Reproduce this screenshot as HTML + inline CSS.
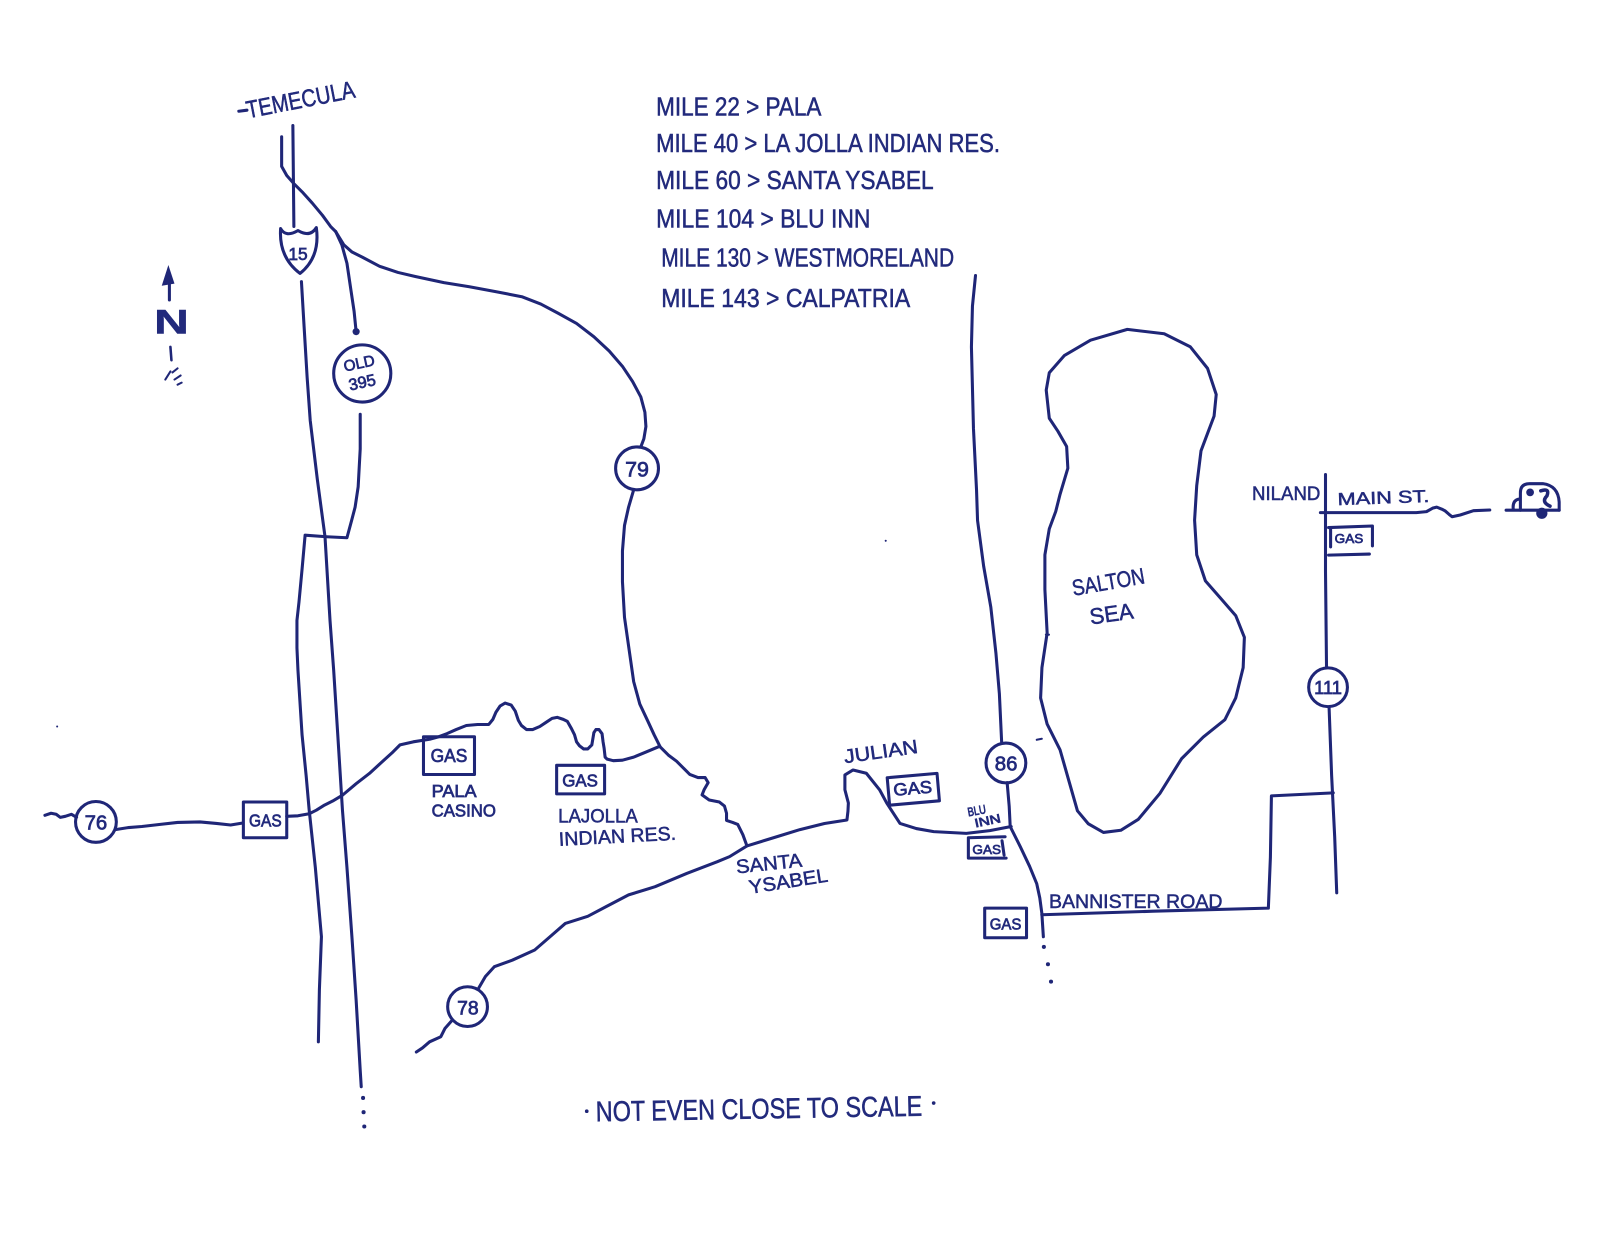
<!DOCTYPE html>
<html>
<head>
<meta charset="utf-8">
<style>
  html,body{margin:0;padding:0;background:#fff;}
  svg{display:block;}
  .t{font-family:"Liberation Sans",sans-serif;fill:#222a7c;stroke:#222a7c;stroke-width:0.5;}
  .s{font-family:"Liberation Sans",sans-serif;fill:#222a7c;stroke:#222a7c;stroke-width:0.7;}
</style>
</head>
<body>
<svg xmlns="http://www.w3.org/2000/svg" width="1600" height="1236" viewBox="0 0 1568 1211.3">
<rect x="0" y="0" width="1568" height="1211.3" fill="#ffffff"/>

<g fill="none" stroke="#1f2677" stroke-width="3" stroke-linecap="round" stroke-linejoin="round">
  <!-- Temecula dash -->
  <path d="M234,109 L242,108"/>
  <!-- I-15 top -->
  <path d="M287,123 L288,222"/>
  <!-- left short line curving -->
  <polyline points="276,134 276,163 281,172 288,180 297,189 306,199 316,211 324,222 329,227"/>
  <!-- Old 395 upper branch -->
  <polyline points="329,227 335,240 340,258 344,285 347,305 349,325"/>
  <!-- 79 upper -->
  <polyline points="329,227 337,240 345,247 355,252 372,261 390,267 407,271 435,277 460,281 487,286 512,291 530,298 547,307 565,317 582,330 597,344 610,359 620,374 628,389 632,404 633,418 631,430 628,438"/>
  <circle cx="624.3" cy="459" r="21"/>
  <!-- 79 lower -->
  <polyline points="621,480 616,497 612,515 610,540 610,570 612,605 617,640 621,668 627,690 635,707 641,720 647,732"/>
  <!-- 79 wiggle to Santa Ysabel -->
  <polyline points="647,732 655,740 663,746 670,753 676,759 684,762 691,762 694,767 690,774 688,779 695,784 705,786 710,790 712,797 712,804 718,806 723,808 728,818 732,829"/>
  <!-- La Jolla / Pala road -->
  <polyline points="645,732 633,737 621,742 610,745 601,745.5 595,744 593,742 592,733 591,727 590,719 587,715 584,715 582,718 581,724 580,730 576,734 572,734 568,731 565,727 563,720 560,714 556,707 552,705 546,703 541,704 535,708 529,712 522,715 516,715 511,711 508,706 505,697 501,691 495,689 490,692 486,698 483,705 479,710 468,710 457,711 447,715 438,719 430,722 421,724.5 405,727 392,730 384,738 374,747 362,758 349,768 336,779 326,785 318,789 310,794 303,797.5 292,799.5 281,800"/>
  <!-- 76 -->
  <polyline points="44,799 50,797 55,798 59,801 64,800 70,798 75,801"/>
  <circle cx="94" cy="805.5" r="20"/>
  <polyline points="113,813 126,811 139,810 156,808 174,806 196,805.5 212,807 226,808.5 238,806.6"/>
  <rect x="238.5" y="786" width="42.5" height="35"/>
  <!-- Pala gas -->
  <rect x="415" y="722" width="50" height="37"/>
  <!-- La Jolla gas -->
  <rect x="545.5" y="750" width="47" height="28"/>
  <!-- Old 395 circle -->
  <ellipse cx="355" cy="366" rx="28" ry="28"/>
  <!-- Old 395 lower -->
  <polyline points="353,406 353,440 351,477 348,497 344.6,510 340,527 320,526 299,524.5 296,558 293,590 291,608 291,635 292,657 296,720 300,760 303,794 309,850 315,918 313,970 312,1021"/>
  <!-- I-15 lower -->
  <polyline points="295.4,276 298,320 301,370 304,412 311,470 318.5,526 323.4,608 327,657 331,720 335.6,794 340,850 345,920 349,980 353,1049 354,1065"/>
  <!-- I-15 shield -->
  <path d="M275,224 Q280,233 292,226 Q304,233 310,223 Q314,252 294,268 Q273,252 275,224 Z"/>
  <!-- 78 -->
  <circle cx="458.2" cy="986.5" r="19.5"/>
  <polyline points="443,1000 436,1008 432,1016 421,1021 414,1027 408,1031"/>
  <polyline points="469,968.5 475.7,957 484.4,947.4 502,941 524,931 539,918 554,905 576,898 594,888.5 616,877 642,869 673,856 703,844.5 715,839.5 732,829 758,821 784,813 808,807 830,803.6 831,795 831.4,787 828,774 828,759.5 836,754.6 849,757.8 862,774 869,787 882,807 898,812 915,815 947,816.7 970,814 991,810"/>
  <!-- Julian gas -->
  <rect x="870.5" y="760" width="49" height="27" transform="rotate(-5 895 773)"/>
  <!-- 86 -->
  <polyline points="956,270 953,300 952,340 954,420 957,480 958,510 964,555 971,595 976,640 979.4,680 981.6,727"/>
  <circle cx="985.8" cy="747.7" r="19.5"/>
  <polyline points="987,767 989,790 990,810 1000,830 1009,849 1016,866 1019,880 1021,895 1022.5,918"/>
  <!-- Blu Inn gas -->
  <path d="M949,821 L985,820 M949,821 L949,841 L986,841 M982,824 L984,838"/>
  <!-- Bannister gas -->
  <rect x="965" y="890" width="41" height="29"/>
  <!-- Bannister road -->
  <polyline points="1021,896.5 1130,893 1243,890 1245,840 1246,780 1306.6,777"/>
  <!-- 111 -->
  <polyline points="1299,465 1299,560 1300,654"/>
  <circle cx="1301.5" cy="673.5" r="19"/>
  <polyline points="1302.5,693 1305,760 1308,820 1310,875"/>
  <!-- Main St -->
  <polyline points="1294,502.4 1340,502.4 1388,502.4 1398,501.4 1404,498 1408,497 1413,499 1416,500.5 1420,504 1423,506.4 1431,504.7 1444,500.5 1460,499.8"/>
  <!-- Niland gas -->
  <path d="M1302,517 L1345,515.5 L1345,535 M1304,518 L1304,536 M1302,544 L1342,543"/>
  <!-- Trailer -->
  <path d="M1476,500 L1528,500"/>
  <path d="M1490,500 L1490,483 Q1490,474 1499,474 L1512,474 Q1527,476 1528,492 L1528,500"/>
  <path d="M1483,499 Q1482,490 1489,489"/>
  <path d="M1510,481 Q1519,478 1516,486 Q1510,492 1519,496" stroke-width="3.5"/>
  <!-- Salton Sea -->
  <path d="M1104.8,322.8 L1140.9,327.1 L1166.4,339.8 L1183.4,361 L1191.9,386.6 L1189.8,407.8 L1183.4,424.8 L1177,441.8 L1172.8,475.8 L1170.7,509.8 L1172.8,543.8 L1181.3,569.3 L1196.2,586.3 L1211,603.3 L1219.5,624.6 L1218.3,654.3 L1211,684 L1200.4,705.3 L1179.2,722.3 L1157.9,743.6 L1136.7,777.6 L1115.4,803.1 L1098.4,813.7 L1081.4,815.8 L1066.5,807.3 L1055.9,794.6 L1047.4,764.8 L1038.9,735 L1026.2,709.6 L1019.8,684 L1021.1,654.3 L1026.2,620.3 L1024,577.8 L1024,543.8 L1028.3,518.3 L1034.6,501.3 L1038.9,484.3 L1046.5,458.8 L1045.3,437.6 L1036.8,422.7 L1028.3,409.9 L1025.3,382.3 L1028.3,365.3 L1043.2,348.3 L1068.7,333.4 Z"/>
  <!-- small marks -->
  <path d="M1016,725 L1021,724" stroke-width="2"/>
  <path d="M1025,622 L1028,622" stroke-width="2"/>
  <!-- compass -->
  <path d="M166,294 L166,272"/>
  <path d="M167,340 L168,353" stroke-width="2.5"/>
  <path d="M162,372 L167,364 M169,365 L174,361 M171,372 L177,368 M174,377 L178,375" stroke-width="2"/>
</g>

<g fill="#1f2677" stroke="none">
  <circle cx="349" cy="325" r="3.5"/>
  <circle cx="355.8" cy="1076" r="2"/>
  <circle cx="356.3" cy="1090" r="2"/>
  <circle cx="357" cy="1104" r="2"/>
  <circle cx="1023" cy="928" r="2"/>
  <circle cx="1027" cy="945" r="2"/>
  <circle cx="1030" cy="962" r="2"/>
  <circle cx="1499.5" cy="482.5" r="3.8"/>
  <circle cx="1511" cy="503" r="5.5"/>
  <circle cx="575" cy="1089" r="1.8"/>
  <circle cx="915" cy="1081" r="1.8"/>
  <circle cx="56" cy="712" r="1"/>
  <circle cx="868" cy="530" r="1"/>
  <path d="M165,259.7 L158.5,280 L171,278 Z"/>
</g>

<!-- Texts -->
<text class="t" x="243" y="116" font-size="24" textLength="108" lengthAdjust="spacingAndGlyphs" transform="rotate(-11 243 116)">TEMECULA</text>

<text class="t" x="643" y="113" font-size="25" textLength="162" lengthAdjust="spacingAndGlyphs">MILE 22 &gt; PALA</text>
<text class="t" x="643" y="149" font-size="25" textLength="337" lengthAdjust="spacingAndGlyphs">MILE 40 &gt; LA JOLLA INDIAN RES.</text>
<text class="t" x="643" y="185" font-size="25" textLength="272" lengthAdjust="spacingAndGlyphs">MILE 60 &gt; SANTA YSABEL</text>
<text class="t" x="643" y="223" font-size="25" textLength="210" lengthAdjust="spacingAndGlyphs">MILE 104 &gt; BLU INN</text>
<text class="t" x="648" y="261" font-size="25" textLength="287" lengthAdjust="spacingAndGlyphs">MILE 130 &gt; WESTMORELAND</text>
<text class="t" x="648" y="301" font-size="25" textLength="244" lengthAdjust="spacingAndGlyphs">MILE 143 &gt; CALPATRIA</text>

<text class="t" x="151" y="327" font-size="34" font-weight="bold" textLength="34" lengthAdjust="spacingAndGlyphs">N</text>

<text class="s" x="292" y="255" font-size="17" text-anchor="middle">15</text>
<text class="s" x="353" y="361" font-size="15" text-anchor="middle" transform="rotate(-12 353 361)">OLD</text>
<text class="s" x="356" y="380" font-size="16" text-anchor="middle" transform="rotate(-12 356 380)">395</text>
<text class="s" x="624.3" y="467" font-size="21" text-anchor="middle">79</text>
<text class="s" x="94" y="813" font-size="20" text-anchor="middle">76</text>
<text class="s" x="458.5" y="994" font-size="19" text-anchor="middle">78</text>
<text class="s" x="986" y="755" font-size="20" text-anchor="middle">86</text>
<text class="s" x="1301.5" y="680" font-size="18" text-anchor="middle">111</text>

<text class="s" x="244" y="810" font-size="17" textLength="32" lengthAdjust="spacingAndGlyphs">GAS</text>
<text class="s" x="422" y="747" font-size="18" textLength="36" lengthAdjust="spacingAndGlyphs">GAS</text>
<text class="s" x="551" y="771" font-size="17" textLength="35" lengthAdjust="spacingAndGlyphs">GAS</text>
<text class="s" x="876" y="780" font-size="17" textLength="38" lengthAdjust="spacingAndGlyphs" transform="rotate(-5 876 780)">GAS</text>
<text class="s" x="953" y="837" font-size="13" textLength="28" lengthAdjust="spacingAndGlyphs">GAS</text>
<text class="s" x="970" y="911" font-size="15" textLength="31" lengthAdjust="spacingAndGlyphs">GAS</text>
<text class="s" x="1308" y="532" font-size="13" textLength="28" lengthAdjust="spacingAndGlyphs">GAS</text>

<text class="s" x="423" y="781" font-size="17" textLength="44" lengthAdjust="spacingAndGlyphs">PALA</text>
<text class="s" x="423" y="800" font-size="17" textLength="63" lengthAdjust="spacingAndGlyphs">CASINO</text>
<text class="t" x="547" y="806" font-size="19" textLength="78" lengthAdjust="spacingAndGlyphs">LAJOLLA</text>
<text class="t" x="548" y="829" font-size="19" textLength="115" lengthAdjust="spacingAndGlyphs" transform="rotate(-3 548 829)">INDIAN RES.</text>
<text class="t" x="722" y="856" font-size="19" textLength="65" lengthAdjust="spacingAndGlyphs" transform="rotate(-6 722 856)">SANTA</text>
<text class="t" x="735" y="876" font-size="19" textLength="78" lengthAdjust="spacingAndGlyphs" transform="rotate(-9 735 876)">YSABEL</text>
<text class="t" x="828" y="748" font-size="19" textLength="73" lengthAdjust="spacingAndGlyphs" transform="rotate(-8 828 748)">JULIAN</text>
<text class="s" x="949" y="800" font-size="12" textLength="18" lengthAdjust="spacingAndGlyphs" transform="rotate(-10 949 800)">BLU</text>
<text class="s" x="956" y="811" font-size="12" textLength="26" lengthAdjust="spacingAndGlyphs" transform="rotate(-12 956 811)">INN</text>
<text class="t" x="1028" y="890" font-size="19" textLength="170" lengthAdjust="spacingAndGlyphs">BANNISTER ROAD</text>
<text class="t" x="1227" y="490" font-size="19" textLength="67" lengthAdjust="spacingAndGlyphs">NILAND</text>
<text class="t" x="1311" y="495" font-size="17" textLength="90" lengthAdjust="spacingAndGlyphs" transform="rotate(-2 1311 495)">MAIN ST.</text>
<text class="t" x="1052" y="584" font-size="22" textLength="72" lengthAdjust="spacingAndGlyphs" transform="rotate(-10 1052 584)">SALTON</text>
<text class="t" x="1069" y="612" font-size="22" textLength="43" lengthAdjust="spacingAndGlyphs" transform="rotate(-8 1069 612)">SEA</text>

<text class="t" x="584" y="1099" font-size="28" textLength="320" lengthAdjust="spacingAndGlyphs" transform="rotate(-1 584 1099)">NOT EVEN CLOSE TO SCALE</text>
</svg>
</body>
</html>
